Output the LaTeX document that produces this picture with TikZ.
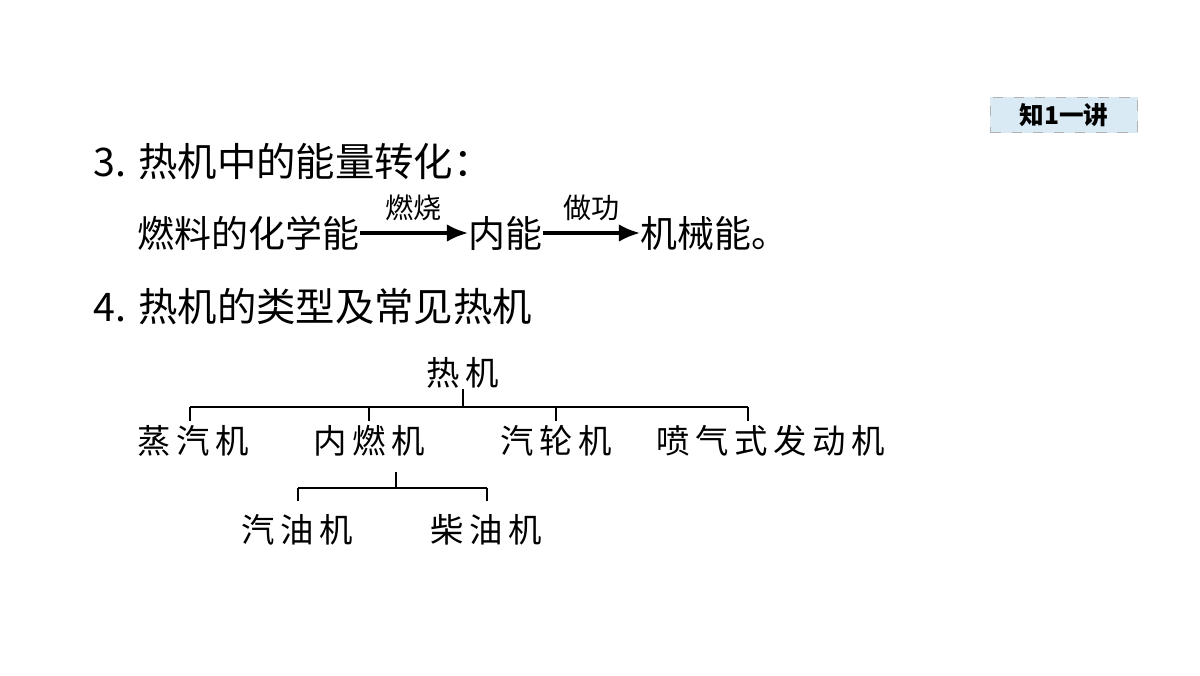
\documentclass[tikz,border=0pt]{standalone}
\usepackage{fontspec}
\setmainfont{Noto Sans CJK SC}
\usetikzlibrary{arrows.meta}
\usetikzlibrary{positioning}
\definecolor{badgefill}{RGB}{218,234,244}

\begin{document}
\begin{tikzpicture}[
    x=0.01cm, y=-0.01cm, % pixel-like units, y going down
    every node/.style={inner sep=0pt, font=\fontsize{10.5pt}{12pt}\selectfont},
    heading/.style={anchor=west, font=\fontsize{11.2pt}{13pt}\selectfont},
    treetext/.style={font=\fontsize{9.5pt}{12pt}\selectfont},
    conv/.style={-{Latex[length=6pt,width=5pt]}, line width=0.9pt},
    branch/.style={line width=0.8pt}
]
\useasboundingbox (0,0) rectangle (1200,675);

% badge
\node[draw=gray!60, dashed, fill=badgefill, minimum width=1.47cm, minimum height=0.35cm,
      font=\bfseries\fontsize{7pt}{8pt}\selectfont] (badge) at (1064,115) {知1一讲};

% headings
\node[heading] (head3) at (93,162) {3. 热机中的能量转化：};
\node[heading] (head4) at (93,307) {4. 热机的类型及常见热机};

% energy chain
\node[anchor=west] (fuel) at (137,233) {燃料的化学能};
\node[anchor=west] (inner) at (468,233) {内能};
\node[anchor=west] (mech) at (640,233) {机械能。};
\draw[conv] (fuel.east) -- node[above=3pt, font=\fontsize{8pt}{9pt}\selectfont] (burn) {燃烧} (inner.west);
\draw[conv] (inner.east) -- node[above=3pt, font=\fontsize{8pt}{9pt}\selectfont] (work) {做功} (mech.west);

% tree
\node[treetext] (engine) at (463,373) {热\,机};
\node[treetext] (steam) at (193,441) {蒸\,汽\,机};
\node[treetext] (ice) at (369,441) {内\,燃\,机};
\node[treetext] (turbine) at (556,441) {汽\,轮\,机};
\node[treetext] (jet) at (771,441) {喷\,气\,式\,发\,动\,机};
\node[treetext] (petrol) at (297,530) {汽\,油\,机};
\node[treetext] (diesel) at (486,530) {柴\,油\,机};

\coordinate (barL) at (190,407);
\coordinate (barR) at (748,407);
\draw[branch] (engine.south) -- (463,407);
\draw[branch] (barL) -- (barR);
\foreach \x/\child in {190/steam, 369/ice, 556/turbine, 748/jet}
    \draw[branch] (\x,407) -- (\x,421);

\coordinate (subL) at (298,488);
\coordinate (subR) at (487,488);
\draw[branch] (396,472) -- (396,488);
\draw[branch] (subL) -- (subR);
\draw[branch] (subL) -- (298,501);
\draw[branch] (subR) -- (487,501);
\end{tikzpicture}
\end{document}
